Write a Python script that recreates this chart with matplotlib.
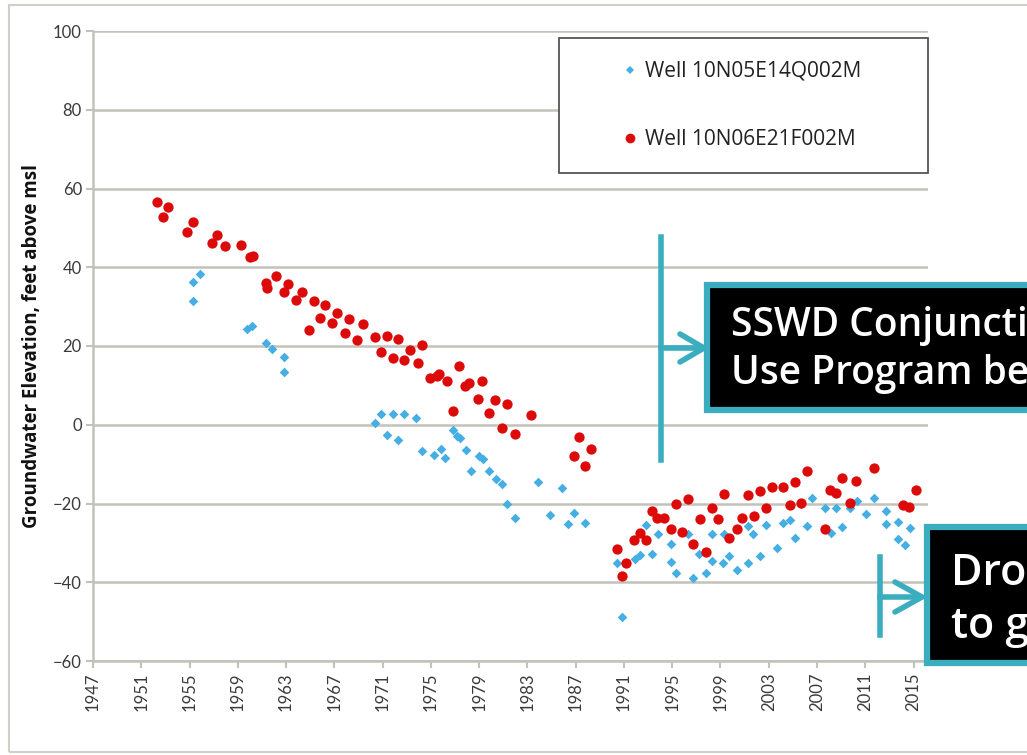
import matplotlib.pyplot as plt
from matplotlib.patches import Rectangle
from matplotlib.lines import Line2D

# valores (ano decimal, pés acima do nível do mar)
blue_label = 'Well 10N05E14Q002M'
blue_years = [1955.3, 1955.9, 1955.3, 1959.8, 1960.2, 1961.3, 1961.8, 1962.8, 1962.8,
              1970.4, 1970.9, 1971.4, 1971.9, 1972.3, 1972.8, 1973.8, 1974.3, 1975.3,
              1975.8, 1976.2, 1976.8, 1977.2, 1977.4, 1977.9, 1978.3, 1979.0, 1979.3,
              1979.8, 1980.4, 1980.9, 1981.3, 1982.0, 1983.9, 1984.9, 1985.9, 1986.4,
              1986.9, 1987.8, 1990.4, 1990.8, 1991.9, 1992.3, 1992.8, 1993.3, 1993.8,
              1994.9, 1994.9, 1995.3, 1996.3, 1996.7, 1997.2, 1997.8, 1998.3, 1998.3,
              1999.2, 1999.3, 1999.7, 2000.4, 2001.3, 2001.3, 2001.7, 2002.3, 2002.8,
              2003.7, 2004.2, 2004.8, 2005.2, 2005.7, 2006.2, 2006.6, 2007.7, 2008.2,
              2008.6, 2009.1, 2009.7, 2010.3, 2011.1, 2011.7, 2012.7, 2012.7, 2013.7,
              2013.7, 2014.3, 2014.7]
blue_vals = [36.3, 38.3, 31.5, 24.4, 25.1, 20.8, 19.3, 17.3, 13.5,
             0.5, 2.8, -2.5, 2.8, -3.8, 2.8, 1.8, -6.6, -7.6,
             -6.1, -8.4, -1.3, -2.8, -3.3, -6.4, -11.7, -7.9, -8.6,
             -11.7, -13.7, -15.0, -20.1, -23.6, -14.5, -22.9, -16.0, -25.1,
             -22.4, -24.9, -35.0, -48.8, -34.0, -33.0, -25.4, -32.8, -27.7,
             -30.2, -34.8, -37.6, -27.7, -38.9, -32.8, -37.6, -34.5, -27.7,
             -35.0, -27.7, -33.3, -36.8, -35.0, -25.7, -27.7, -33.3, -25.4,
             -31.2, -24.9, -24.1, -28.7, -20.1, -25.7, -18.5, -21.1, -27.4,
             -21.1, -25.9, -21.1, -19.3, -22.6, -18.5, -21.8, -25.1, -24.6,
             -29.0, -30.5, -26.2]

red_label = 'Well 10N06E21F002M'
red_years = [1952.3, 1952.8, 1953.2, 1954.8, 1955.3, 1956.9, 1957.3, 1957.9, 1959.3,
             1960.0, 1960.3, 1961.3, 1961.4, 1962.2, 1962.8, 1963.2, 1963.8, 1964.3,
             1964.9, 1965.3, 1965.8, 1966.2, 1966.8, 1967.2, 1967.9, 1968.2, 1968.9,
             1969.4, 1970.4, 1970.9, 1971.4, 1971.9, 1972.3, 1972.8, 1973.3, 1973.9,
             1974.3, 1974.9, 1975.5, 1975.7, 1976.3, 1976.8, 1977.3, 1977.8, 1978.2,
             1978.9, 1979.2, 1979.8, 1980.3, 1980.9, 1981.3, 1982.0, 1983.3, 1986.9,
             1987.3, 1987.8, 1988.3, 1990.4, 1990.8, 1991.2, 1991.8, 1992.3, 1992.8,
             1993.3, 1993.7, 1994.3, 1994.9, 1995.3, 1995.8, 1996.3, 1996.7, 1997.3,
             1997.8, 1998.3, 1998.8, 1999.3, 1999.7, 2000.4, 2000.8, 2001.3, 2001.8,
             2002.3, 2002.8, 2003.3, 2004.2, 2004.8, 2005.2, 2005.7, 2006.2, 2007.7,
             2008.1, 2008.6, 2009.1, 2009.7, 2010.2, 2011.7, 2014.1, 2014.6, 2015.2]
red_vals = [56.6, 52.8, 55.4, 49.0, 51.6, 46.2, 48.3, 45.5, 45.7,
            42.5, 42.9, 36.1, 34.8, 37.8, 33.8, 35.8, 31.8, 33.8,
            24.1, 31.5, 27.2, 30.5, 25.9, 28.4, 23.4, 26.9, 21.6,
            25.7, 22.4, 18.5, 22.6, 17.0, 21.8, 16.5, 19.0, 15.7,
            20.3, 11.9, 12.4, 12.9, 11.2, 3.6, 15.0, 9.9, 10.7,
            6.6, 11.2, 3.0, 6.4, -0.8, 5.3, -2.3, 2.5, -7.9,
            -3.2, -10.6, -6.1, -31.5, -38.4, -35.0, -29.2, -27.4, -29.2,
            -21.8, -23.6, -23.6, -26.4, -20.1, -27.2, -18.8, -30.2, -23.9,
            -32.3, -21.1, -23.9, -17.5, -28.7, -26.4, -23.6, -17.8, -23.1,
            -16.8, -21.1, -15.7, -15.7, -20.3, -14.5, -19.8, -11.7, -26.4,
            -16.5, -17.3, -13.5, -19.8, -14.2, -10.9, -20.3, -20.8, -16.5]

x_ticks = list(range(1947, 2016, 4))
y_ticks = list(range(-60, 101, 20))

box1_text = 'SSWD Conjunctive\nUse Program begins'
box2_text = 'Drought returns\nto groundwater use'

W, H = 1027, 755
teal = '#3AAEBE'
grid_col = '#C2C2BA'


def fx(px):
    return px / W


def fy(py):
    return 1 - py / H


plt.rcParams['font.family'] = ['Lato', 'DejaVu Sans']

fig = plt.figure(figsize=(W / 100, H / 100), dpi=100)
ax = fig.add_axes([fx(93), fy(661), fx(928) - fx(93), fy(31) - fy(661)])

ax.scatter(blue_years, blue_vals, marker='D', s=24, color='#45AEE3', linewidths=0, zorder=3)
ax.scatter(red_years, red_vals, marker='o', s=55, color='#DD0A0A', linewidths=0, zorder=4)

ax.set_xlim(1947, 2016.2)
ax.set_ylim(-60, 100)
ax.set_xticks(x_ticks)
ax.set_xticklabels([str(y) for y in x_ticks], rotation=90)
ax.set_yticks(y_ticks)
ax.tick_params(axis='both', labelsize=12, colors='#3A3A3A')
ax.tick_params(axis='x', length=5, width=1.5, color=grid_col, pad=3)
ax.tick_params(axis='y', length=5, width=1.5, color=grid_col, pad=3)
ax.grid(axis='y', color=grid_col, linewidth=1.8)
ax.set_axisbelow(True)
for side in ['top', 'right']:
    ax.spines[side].set_visible(False)
for side in ['left', 'bottom']:
    ax.spines[side].set_color(grid_col)
    ax.spines[side].set_linewidth(1.8)

fig.text(fx(32), fy(346), 'Groundwater Elevation, feet above msl', rotation=90,
         fontsize=13.5, fontweight='bold', ha='center', va='center', color='#111111',
         family=['Open Sans', 'DejaVu Sans'])

# moldura externa do gráfico
fig.patches.append(Rectangle((fx(9), fy(752)), 1.2, fy(5) - fy(752), transform=fig.transFigure,
                             fill=False, edgecolor='#D0D0C8', linewidth=1.5))

# legenda (caixa desenhada à parte, entradas pela legenda do matplotlib)
fig.patches.append(Rectangle((fx(559), fy(173)), fx(928) - fx(559), fy(38) - fy(173),
                             transform=fig.transFigure, facecolor='white',
                             edgecolor='#555555', linewidth=1.3, zorder=5))
handles = [Line2D([], [], marker='D', ls='', color='#45AEE3', markersize=4.5, markeredgewidth=0),
           Line2D([], [], marker='o', ls='', color='#DD0A0A', markersize=7, markeredgewidth=0)]
leg = fig.legend(handles, [blue_label, red_label], loc='upper left',
                 bbox_to_anchor=(fx(623), fy(61)), frameon=False,
                 prop={'family': ['Open Sans', 'DejaVu Sans'], 'size': 15},
                 handlelength=0.7, handletextpad=0.35, labelspacing=2.25,
                 borderpad=0, borderaxespad=0)
leg.set_zorder(6)
for t in leg.get_texts():
    t.set_color('#222222')

# caixas de anotação
fig.patches.append(Rectangle((fx(707), fy(410)), 0.4, fy(285) - fy(410), transform=fig.transFigure,
                             facecolor='black', edgecolor=teal, linewidth=4.5, zorder=7))
fig.text(fx(731), fy(350), box1_text, fontsize=28, fontweight='semibold', color='white',
         family=['Open Sans', 'DejaVu Sans'], va='center', ha='left', linespacing=1.27, zorder=8)
fig.add_artist(Line2D([fx(661), fx(661)], [fy(237), fy(460)], color=teal, linewidth=4, zorder=7))
fig.add_artist(Line2D([fx(661), fx(700)], [fy(348), fy(348)], color=teal, linewidth=4, zorder=7))
fig.add_artist(Line2D([fx(680), fx(704), fx(680)], [fy(334), fy(348), fy(362)], color=teal,
                      linewidth=4, solid_capstyle='round', solid_joinstyle='miter', zorder=7))

fig.patches.append(Rectangle((fx(927), fy(663)), 0.3, fy(527) - fy(663), transform=fig.transFigure,
                             facecolor='black', edgecolor=teal, linewidth=4.5, zorder=7))
fig.text(fx(951), fy(600), box2_text, fontsize=31, fontweight='semibold', color='white',
         family=['Open Sans', 'DejaVu Sans'], va='center', ha='left', linespacing=1.3, zorder=8)
fig.add_artist(Line2D([fx(880), fx(880)], [fy(557), fy(635)], color=teal, linewidth=4, zorder=7))
fig.add_artist(Line2D([fx(880), fx(920)], [fy(597), fy(597)], color=teal, linewidth=4, zorder=7))
fig.add_artist(Line2D([fx(895), fx(922), fx(895)], [fy(582), fy(597), fy(612)], color=teal,
                      linewidth=4, solid_capstyle='round', solid_joinstyle='miter', zorder=7))

plt.savefig('out.png', dpi=100)
